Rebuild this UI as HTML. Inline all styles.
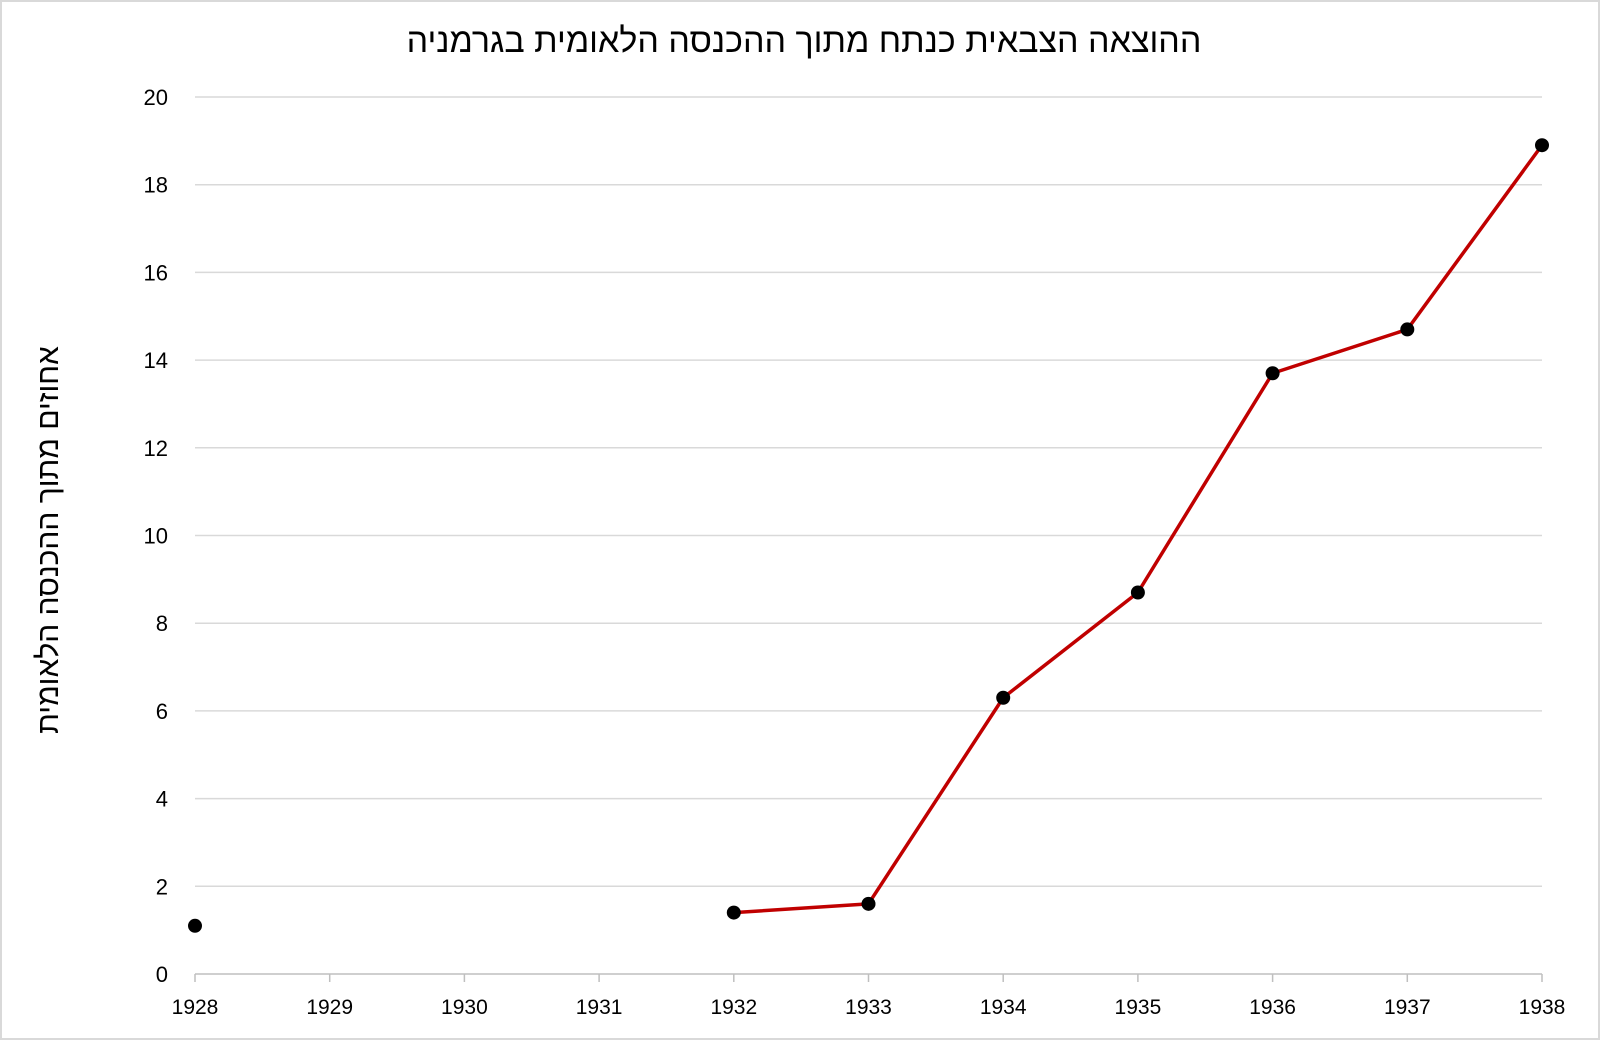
<!DOCTYPE html>
<html><head><meta charset="utf-8"><style>
body{margin:0;background:#fff;}
svg{display:block;font-family:"Liberation Sans","Noto Sans CJK SC",sans-serif;}
</style></head><body>
<svg id="chart" width="1600" height="1040">
<rect x="1" y="1" width="1598" height="1038" fill="#fff" stroke="#d9d9d9" stroke-width="2"/>
<text x="804" y="52" text-anchor="middle" font-size="34" fill="#000" direction="rtl">ההוצאה הצבאית כנתח מתוך ההכנסה הלאומית בגרמניה</text>
<text transform="translate(58,540) rotate(-90)" text-anchor="middle" font-size="30" fill="#000" direction="rtl">אחוזים מתוך ההכנסה הלאומית</text>
<g id="grid"></g><g id="axes"></g><g id="series"></g>
</svg>
<script>
const years=[1928,1929,1930,1931,1932,1933,1934,1935,1936,1937,1938];
const values=[1.1,null,null,null,1.4,1.6,6.3,8.7,13.7,14.7,18.9];
const yTicks=[0,2,4,6,8,10,12,14,16,18,20];
const NS="http://www.w3.org/2000/svg";
const x0=195,x1=1542,y0=974,y1=97;
const xs=i=>x0+(x1-x0)*i/(years.length-1);
const ys=v=>y0-(y0-y1)*v/20;
function mk(t,a,p){const e=document.createElementNS(NS,t);for(const k in a)e.setAttribute(k,a[k]);p.appendChild(e);return e;}
const grid=document.getElementById('grid'),axes=document.getElementById('axes'),series=document.getElementById('series');
yTicks.forEach(v=>{
 if(v>0){const l=mk('line',{x1:x0,x2:x1,y1:ys(v),y2:ys(v),stroke:'#d9d9d9','stroke-width':1.5},grid);
 
 }
 const t=mk('text',{x:168,y:ys(v)+8,'text-anchor':'end','font-size':22,fill:'#000'},axes);t.textContent=v;
 
 
});
const ax=mk('line',{x1:x0,x2:x1,y1:y0,y2:y0,stroke:'#bfbfbf','stroke-width':1.5},axes);


years.forEach((y,i)=>{
 const tk=mk('line',{x1:xs(i),x2:xs(i),y1:y0,y2:y0+8,stroke:'#bfbfbf','stroke-width':1.5},axes);
 
 
 const t=mk('text',{x:xs(i),y:1014,'text-anchor':'middle','font-size':21,fill:'#000'},axes);t.textContent=y;
 
 
});
let seg=[];const segs=[];
values.forEach((v,i)=>{if(v==null){if(seg.length)segs.push(seg);seg=[];}else seg.push([xs(i),ys(v)]);});
if(seg.length)segs.push(seg);
segs.forEach(s=>{if(s.length>1){const p=mk('polyline',{points:s.map(q=>q.join(',')).join(' '),fill:'none',stroke:'#c00000','stroke-width':3.5,'stroke-linejoin':'round'},series);
 
 }});
values.forEach((v,i)=>{if(v==null)return;
 const c=mk('circle',{cx:xs(i),cy:ys(v),r:7,fill:'#000'},series);
 
 
});
</script>
</body></html>
